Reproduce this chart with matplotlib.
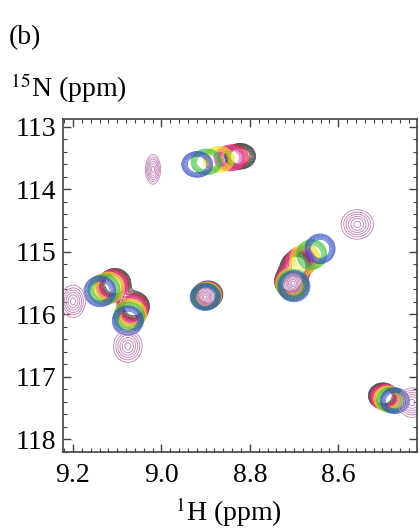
import numpy as np
import matplotlib
matplotlib.use('Agg')
import matplotlib.pyplot as plt

plt.rcParams['font.family'] = 'Liberation Serif'
plt.rcParams['mathtext.fontset'] = 'stix'

# titration series, one entry per peak: A, B2, B1, C, D, E, F
series_colors = ['#111111', '#e8203a', '#e048a8', '#f2e21a', '#3cc03c', '#3048c0']

h_black   = [8.822, 8.695, 8.708, 9.105, 9.062, 8.499, 8.895]
n_black   = [113.47, 115.22, 115.47, 115.51, 115.87, 117.30, 115.68]
h_red     = [8.838, 8.689, 8.707, 9.110, 9.064, 8.495, 8.896]
n_red     = [113.49, 115.18, 115.48, 115.53, 115.91, 117.32, 115.69]
h_magenta = [8.846, 8.684, 8.706, 9.113, 9.066, 8.492, 8.897]
n_magenta = [113.50, 115.15, 115.49, 115.55, 115.94, 117.33, 115.69]
h_yellow  = [8.870, 8.675, 8.705, 9.120, 9.069, 8.487, 8.898]
n_yellow  = [113.52, 115.11, 115.51, 115.57, 115.99, 117.35, 115.70]
h_green   = [8.898, 8.660, 8.703, 9.130, 9.073, 8.480, 8.899]
n_green   = [113.56, 115.04, 115.53, 115.60, 116.04, 117.37, 115.71]
h_blue    = [8.919, 8.641, 8.700, 9.139, 9.076, 8.472, 8.901]
n_blue    = [113.60, 114.95, 115.55, 115.63, 116.10, 117.38, 115.72]
peak_sh   = [0.0170, 0.0165, 0.0175, 0.0175, 0.0170, 0.0160, 0.0165]
peak_sn   = [0.100, 0.115, 0.120, 0.120, 0.115, 0.100, 0.105]

# reference spectrum (mauve)
h_ref  = [9.019, 8.557, 9.200, 9.076, 8.433, 8.702, 8.901]
n_ref  = [113.68, 114.56, 115.79, 116.51, 117.41, 115.50, 115.72]
ref_sh = [0.0080, 0.0170, 0.0130, 0.0150, 0.0150, 0.0090, 0.0085]
ref_sn = [0.110, 0.110, 0.120, 0.120, 0.110, 0.070, 0.065]

hh = np.linspace(8.38, 9.26, 600)
nn = np.linspace(112.7, 118.4, 600)
H, N = np.meshgrid(hh, nn)


def spectrum(hs, ns, sh, sn):
    Z = np.zeros_like(H)
    for h0, n0, a, b in zip(hs, ns, sh, sn):
        Z += np.exp(-((H - h0) ** 2 / (2 * a ** 2) + (N - n0) ** 2 / (2 * b ** 2)))
    return Z


fig = plt.figure(figsize=(4.2, 5.31), dpi=100)
ax = fig.add_axes([0.150, 0.1488, 0.843, 0.6272])

levels = np.geomspace(0.12, 0.42, 7)
series = [(h_black, n_black), (h_red, n_red), (h_magenta, n_magenta),
          (h_yellow, n_yellow), (h_green, n_green), (h_blue, n_blue)]
for (hs, ns), c in zip(series, series_colors):
    ax.contour(H, N, spectrum(hs, ns, peak_sh, peak_sn), levels=levels,
               colors=c, linewidths=0.55, alpha=0.8)

ax.contour(H, N, spectrum(h_ref, n_ref, ref_sh, ref_sn),
           levels=[0.1, 0.2, 0.33, 0.5, 0.7, 0.9], colors='#c890bc', linewidths=0.7)

ax.set_xlim(9.2226, 8.4217)
ax.set_ylim(118.159, 112.873)
ax.set_xticks([9.2, 9.0, 8.8, 8.6])
ax.set_xticklabels(['9.2', '9.0', '8.8', '8.6'])
ax.set_xticks(np.arange(8.44, 9.23, 0.02), minor=True)
ax.set_yticks([113, 114, 115, 116, 117, 118])
ax.set_yticks(np.arange(113.0, 118.2, 0.2), minor=True)
ax.tick_params(which='both', direction='in', top=True, right=True,
               color='#3c463c', labelsize=20)
ax.tick_params(which='major', length=6, width=1)
ax.tick_params(which='minor', length=3, width=0.8)
ax.tick_params(axis='x', pad=8)
ax.tick_params(axis='y', pad=5)
for s in ax.spines.values():
    s.set_color('#3c463c')
    s.set_linewidth(1.2)

fig.text(0.02, 1 - 38 / 531, '(b)', fontsize=20, va='center')
fig.text(0.025, 1 - 88 / 531, r'$^{15}$N (ppm)', fontsize=20, va='center')
fig.text(228 / 420, 1 - 512 / 531, r'$^{1}$H (ppm)', fontsize=20,
         va='center', ha='center')

fig.savefig('out.png', dpi=100)
